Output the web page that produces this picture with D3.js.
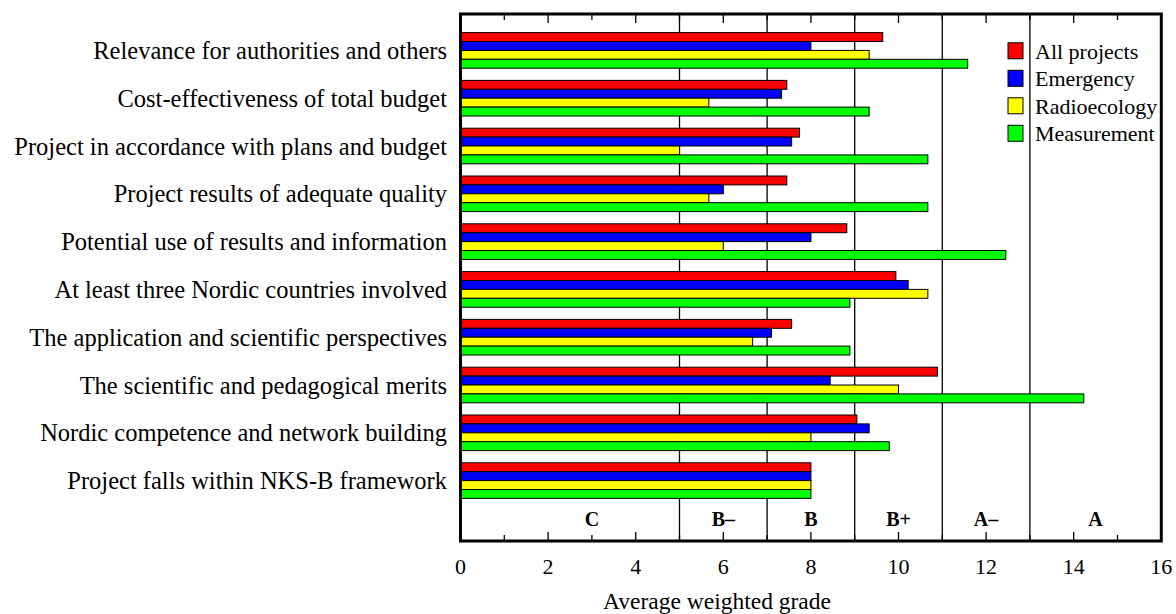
<!DOCTYPE html>
<html>
<head>
<meta charset="utf-8">
<script src="https://cdn.jsdelivr.net/npm/d3@7"></script>
<style>
  body { margin: 0; background: #fff; }
  text { font-family: "Liberation Serif", "Times New Roman", serif; fill: #000; }
</style>
</head>
<body>
<div class="chart"></div>
<script>
// criteria, top to bottom
const categories = [
  'Relevance for authorities and others',
  'Cost-effectiveness of total budget',
  'Project in accordance with plans and budget',
  'Project results of adequate quality',
  'Potential use of results and information',
  'At least three Nordic countries involved',
  'The application and scientific perspectives',
  'The scientific and pedagogical merits',
  'Nordic competence and network building',
  'Project falls within NKS-B framework'
];
const series = ['All projects', 'Emergency', 'Radioecology', 'Measurement'];
const colors = ['#ff0000', '#0000ff', '#ffff00', '#00ff00'];

const allProjects  = [9.64, 7.45, 7.74, 7.45, 8.82, 9.94, 7.56, 10.89, 9.05, 8.0];
const emergency    = [8.0, 7.33, 7.56, 6.0, 8.0, 10.22, 7.1, 8.44, 9.33, 8.0];
const radioecology = [9.33, 5.67, 5.0, 5.67, 6.0, 10.67, 6.67, 10.0, 8.0, 8.0];
const measurement  = [11.58, 9.33, 10.67, 10.67, 12.45, 8.89, 8.89, 14.23, 9.79, 8.0];

// grade bands along the x axis
const gradeBreaks = [5, 7, 9, 11, 13];
const gradeLabels = ['C', 'B\u2013', 'B', 'B+', 'A\u2013', 'A'];
const gradeCenters = [3, 6, 8, 10, 12, 14.5];
const xTicks = [0, 2, 4, 6, 8, 10, 12, 14, 16];

const width = 1176, height = 614;
const frame = {left: 460.5, right: 1161.3, top: 14, bottom: 541};

const svg = d3.select('.chart')
  .append('svg')
    .attr('width', width)
    .attr('height', height);

const x = d3.scaleLinear().domain([0, 16]).range([frame.left, frame.right]);
const y = d3.scaleBand().domain(categories)
  .range([26.5, 504.5])
  .paddingInner(0.255)
  .paddingOuter(0.1275);
const ySub = d3.scaleBand().domain(series).range([0, y.bandwidth()]);

const values = [allProjects, emergency, radioecology, measurement];
const rows = [];
categories.forEach((c, i) => {
  series.forEach((s, j) => {
    rows.push({cat: c, series: s, value: values[j][i], color: colors[j]});
  });
});

// grade band dividers
svg.append('g')
  .selectAll('line')
  .data(gradeBreaks)
  .enter().append('line')
    .attr('x1', d => x(d)).attr('x2', d => x(d))
    .attr('y1', frame.top).attr('y2', frame.bottom)
    .attr('stroke', '#000')
    .attr('stroke-width', 1.3);

// bars
svg.append('g')
  .selectAll('rect')
  .data(rows)
  .enter().append('rect')
    .attr('x', x(0))
    .attr('y', d => y(d.cat) + ySub(d.series))
    .attr('width', d => x(d.value) - x(0))
    .attr('height', ySub.bandwidth())
    .attr('fill', d => d.color)
    .attr('stroke', '#000')
    .attr('stroke-width', 1);

// ticks on top and bottom, pointing in
const tickVals = d3.range(0, 17);
const tickLen = d => d % 2 === 0 ? 9 : 6;
svg.append('g')
  .selectAll('line')
  .data(tickVals)
  .enter().append('line')
    .attr('x1', d => x(d)).attr('x2', d => x(d))
    .attr('y1', frame.bottom).attr('y2', d => frame.bottom - tickLen(d))
    .attr('stroke', '#000').attr('stroke-width', 1.3);
svg.append('g')
  .selectAll('line')
  .data(tickVals)
  .enter().append('line')
    .attr('x1', d => x(d)).attr('x2', d => x(d))
    .attr('y1', frame.top).attr('y2', d => frame.top + tickLen(d))
    .attr('stroke', '#000').attr('stroke-width', 1.3);

// frame
svg.append('rect')
  .attr('x', frame.left).attr('y', frame.top)
  .attr('width', frame.right - frame.left)
  .attr('height', frame.bottom - frame.top)
  .attr('fill', 'none')
  .attr('stroke', '#000')
  .attr('stroke-width', 3);

// tick labels
svg.append('g')
  .selectAll('text')
  .data(xTicks)
  .enter().append('text')
    .attr('x', d => x(d))
    .attr('y', 574)
    .attr('text-anchor', 'middle')
    .style('font-size', '22px')
    .text(d => d);

// axis title
svg.append('text')
  .attr('x', 717)
  .attr('y', 609)
  .attr('text-anchor', 'middle')
  .style('font-size', '23.5px')
  .text('Average weighted grade');

// grade labels
svg.append('g')
  .selectAll('text')
  .data(gradeLabels)
  .enter().append('text')
    .attr('x', (d, i) => x(gradeCenters[i]))
    .attr('y', 526)
    .attr('text-anchor', 'middle')
    .style('font-size', '20px')
    .style('font-weight', 'bold')
    .text(d => d);

// category labels
svg.append('g')
  .selectAll('text')
  .data(categories)
  .enter().append('text')
    .attr('x', 447)
    .attr('y', d => y(d) + y.bandwidth() / 2)
    .attr('dy', '0.35em')
    .attr('text-anchor', 'end')
    .style('font-size', '24.5px')
    .text(d => d);

// legend
const legend = svg.append('g')
  .selectAll('g')
  .data(series)
  .enter().append('g')
    .attr('transform', (d, i) => `translate(1008,${50.8 + i * 27.5})`);
legend.append('rect')
  .attr('x', 0).attr('y', -8)
  .attr('width', 15).attr('height', 16)
  .attr('fill', (d, i) => colors[i])
  .attr('stroke', '#000').attr('stroke-width', 1);
legend.append('text')
  .attr('x', 27).attr('y', 0)
  .attr('dy', '0.35em')
  .style('font-size', '22px')
  .text(d => d);
</script>
</body>
</html>
